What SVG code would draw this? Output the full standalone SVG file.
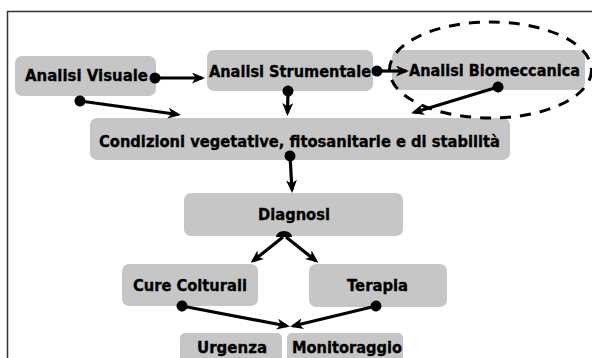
<svg xmlns="http://www.w3.org/2000/svg" width="592" height="358" viewBox="0 0 592 358">
<defs>
<style>
.box{fill:#c6c6c6}
.lbl{font-family:"DejaVu Sans","Verdana",sans-serif;font-weight:bold;font-size:16px;fill:#000;stroke:#000;stroke-width:0.35}
.con{stroke:#000;stroke-width:3.2;fill:none;marker-start:url(#dot);marker-end:url(#arr)}
.frame{stroke:#333;stroke-width:1.5;fill:none}
</style>
<marker id="arr" viewBox="0 0 13 11" refX="10" refY="5.5" markerWidth="13" markerHeight="11" markerUnits="userSpaceOnUse" orient="auto">
<path d="M0,0 L13,5.5 L0,11 L3.5,5.5 z" fill="#000"/>
</marker>
<marker id="dot" viewBox="0 0 12 12" refX="6" refY="6" markerWidth="12" markerHeight="12" markerUnits="userSpaceOnUse" orient="auto">
<circle cx="6" cy="6" r="5.5" fill="#000"/>
</marker>
</defs>
<rect width="592" height="358" fill="#fff"/>
<path class="frame" d="M7.5,358 V11.5 H592"/>

<g id="n-visuale"><rect class="box" x="15" y="56" width="141" height="40" rx="7"/><text class="lbl" x="25" y="81" textLength="123" lengthAdjust="spacingAndGlyphs">Analisi Visuale</text></g>
<g id="n-strumentale"><rect class="box" x="207" y="50" width="166" height="41" rx="7"/><text class="lbl" x="209" y="77" textLength="162" lengthAdjust="spacingAndGlyphs">Analisi Strumentale</text></g>
<g id="n-biomeccanica"><rect class="box" x="392" y="50" width="193" height="40" rx="7"/><text class="lbl" x="409" y="76" style="font-size:15px" textLength="171" lengthAdjust="spacingAndGlyphs">Analisi Biomeccanica</text></g>
<g id="n-condizioni"><rect class="box" x="90" y="118" width="420" height="42" rx="7"/><text class="lbl" x="99" y="147" textLength="401" lengthAdjust="spacingAndGlyphs">Condizioni vegetative, fitosanitarie e di stabilità</text></g>
<g id="n-diagnosi"><rect class="box" x="184" y="193" width="219" height="43" rx="7"/><text class="lbl" x="258" y="220" textLength="72" lengthAdjust="spacingAndGlyphs">Diagnosi</text></g>
<g id="n-cure"><rect class="box" x="122" y="264" width="136" height="42" rx="7"/><text class="lbl" x="133" y="291" textLength="114" lengthAdjust="spacingAndGlyphs">Cure Colturali</text></g>
<g id="n-terapia"><rect class="box" x="309" y="264" width="138" height="43" rx="7"/><text class="lbl" x="347" y="291" textLength="61" lengthAdjust="spacingAndGlyphs">Terapia</text></g>
<g id="n-urgenza"><rect class="box" x="180" y="333" width="102" height="30" rx="5"/><text class="lbl" x="197" y="353" textLength="70" lengthAdjust="spacingAndGlyphs">Urgenza</text></g>
<g id="n-monitoraggio"><rect class="box" x="287" y="333" width="116" height="30" rx="5"/><text class="lbl" x="292" y="353" textLength="110" lengthAdjust="spacingAndGlyphs">Monitoraggio</text></g>

<g id="highlight"><ellipse cx="490.5" cy="70" rx="101" ry="48" fill="none" stroke="#000" stroke-width="3" stroke-dasharray="11 9"/></g>

<g id="connectors">
<line class="con" x1="155" y1="78" x2="202" y2="78"/>
<line class="con" x1="80" y1="101" x2="178" y2="114.5"/>
<line class="con" x1="288" y1="91" x2="287.5" y2="113"/>
<line class="con" x1="377" y1="71" x2="406" y2="71"/>
<line class="con" x1="498" y1="87" x2="414" y2="112.5"/>
<line class="con" x1="290" y1="156" x2="292" y2="190"/>
<path d="M276,237 A8,6 0 0 1 292,237 Z" fill="#000"/>
<line x1="283" y1="237" x2="253" y2="261" stroke="#000" stroke-width="3.2" marker-end="url(#arr)"/>
<line x1="286" y1="237" x2="316" y2="261" stroke="#000" stroke-width="3.2" marker-end="url(#arr)"/>
<line class="con" x1="182" y1="306" x2="287" y2="326"/>
<line class="con" x1="376" y1="306" x2="293" y2="326"/>
</g>
</svg>
